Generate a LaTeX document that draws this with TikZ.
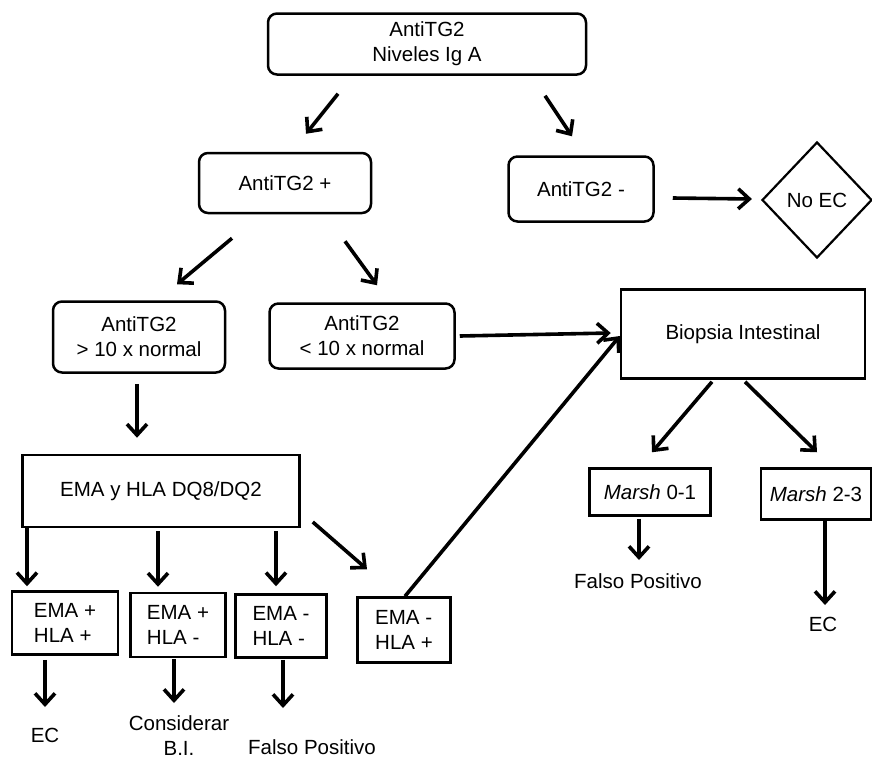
\documentclass[tikz,border=0pt]{standalone}
\usepackage{fontspec}
\setmainfont{Liberation Sans}
\usetikzlibrary{arrows.meta}
\usetikzlibrary{shapes.geometric}
\tikzset{rbox/.style = {draw, rounded corners = 9pt, line width = 2.5pt, align = center, inner sep = 0}}
\tikzset{sbox/.style = {draw, line width = 2.5pt, align = center, inner sep = 0}}
\tikzset{lbl/.style = {inner sep = 0, align = center, anchor = north}}
\tikzset{flow/.style = {line width = 3.6pt, -{Straight Barb[length = 11pt, width = 20pt, line width = 3.6pt]}}}

\begin{document}
\begin{tikzpicture}[x = 1pt, y = -1pt, font = \fontsize{20.5}{25}\selectfont]
      \useasboundingbox (0, 0) rectangle (872, 758);
      \node [rbox, minimum width = 318, minimum height = 61] (top) at (427, 44) {AntiTG2\\Niveles Ig A};
      \node [rbox, minimum width = 172, minimum height = 60] (pos) at (285, 183) {AntiTG2 +};
      \node [rbox, minimum width = 145, minimum height = 65] (neg) at (581, 189) {AntiTG2 -};
      \node [diamond, draw, line width = 2.2pt, inner sep = 0, minimum width = 110, minimum height = 116] (noec) at (817, 200) {No EC};
      \node [rbox, minimum width = 172, minimum height = 71] (gt) at (139, 337) {AntiTG2\\> 10 x normal};
      \node [rbox, minimum width = 185, minimum height = 65] (lt) at (362, 336) {AntiTG2\\< 10 x normal};
      \node [sbox, minimum width = 244, minimum height = 89] (biop) at (743, 334) {Biopsia Intestinal};
      \node [sbox, minimum width = 277, minimum height = 72] (ema) at (161, 491) {EMA y HLA DQ8/DQ2};
      \node [sbox, align = left, minimum width = 106, minimum height = 63] (e1) at (65, 623) {EMA +\\HLA +};
      \node [sbox, align = left, minimum width = 95, minimum height = 64] (e2) at (178, 625) {EMA +\\HLA -};
      \node [sbox, align = left, minimum width = 91, minimum height = 63] (e3) at (281, 626) {EMA -\\HLA -};
      \node [sbox, align = left, minimum width = 93, minimum height = 65] (e4) at (404, 630) {EMA -\\HLA +};
      \node [sbox, minimum width = 121, minimum height = 47] (m01) at (650, 492) {\textit{Marsh} 0-1};
      \node [sbox, minimum width = 110, minimum height = 51] (m23) at (816, 494) {\textit{Marsh} 2-3};
      \node [lbl] (ec1) at (45, 728) {EC};
      \node [lbl] (cbi) at (179, 715) {Considerar\\B.I.};
      \node [lbl] (fp1) at (312, 739) {Falso Positivo};
      \node [lbl] (fp2) at (638, 573) {Falso Positivo};
      \node [lbl] (ec2) at (823, 617) {EC};
      \draw [flow] ([shift = {(-89, 18)}] top.south) -- ([shift = {(21, -18)}] pos.north);
      \draw [flow] ([shift = {(118, 20)}] top.south) -- ([shift = {(-9, -19)}] neg.north);
      \draw [flow] ([shift = {(18, 9)}] neg.east) -- ([shift = {(-9, -1)}] noec.west);
      \draw [flow] ([shift = {(-53, 24)}] pos.south) -- ([shift = {(38, -16)}] gt.north);
      \draw [flow] ([shift = {(60, 27)}] pos.south) -- ([shift = {(15, -17)}] lt.north);
      \draw [flow] ([shift = {(4, 0)}] lt.east) -- ([shift = {(-9, -1)}] biop.west);
      \draw [flow] ([shift = {(-2, 10)}] gt.south) -- ([shift = {(-24, -16)}] ema.north);
      \draw [flow] ([shift = {(-134, 0)}] ema.south) -- ([shift = {(-38, -4)}] e1.north);
      \draw [flow] ([shift = {(-3, 3)}] ema.south) -- ([shift = {(-20, -5)}] e2.north);
      \draw [flow] ([shift = {(115, 3)}] ema.south) -- ([shift = {(-5, -7)}] e3.north);
      \draw [flow] ([shift = {(12, 31)}] ema.east) -- ([shift = {(-37, -27)}] e4.north);
      \draw [flow] ([shift = {(1, 0)}] e4.north) -- ([shift = {(0, 2)}] biop.west);
      \draw [flow] ([shift = {(-31, 2)}] biop.south) -- ([shift = {(2, -15)}] m01.north);
      \draw [flow] ([shift = {(2, 2)}] biop.south) -- ([shift = {(1, -15)}] m23.north);
      \draw [flow] ([shift = {(-20, 4)}] e1.south) -- ([shift = {(0, -21)}] ec1.north);
      \draw [flow] ([shift = {(-4, 1)}] e2.south) -- ([shift = {(-5, -12)}] cbi.north);
      \draw [flow] ([shift = {(2, 1)}] e3.south) -- ([shift = {(-29, -31)}] fp1.north);
      \draw [flow] ([shift = {(-11, 2)}] m01.south) -- ([shift = {(1, -13)}] fp2.north);
      \draw [flow] ([shift = {(9, 0)}] m23.south) -- ([shift = {(2, -12)}] ec2.north);
    \end{tikzpicture}
\end{document}
